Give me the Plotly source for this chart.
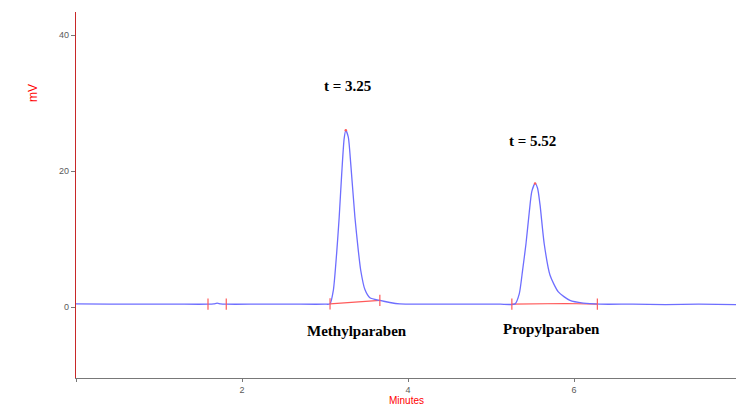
import plotly.graph_objects as go

# Chromatogram trace (minutes, mV)
time_min = [0.0, 0.4, 0.8, 1.2, 1.59, 1.66, 1.70, 1.74, 1.81, 2.2, 2.6, 3.00,
            3.06, 3.10, 3.14, 3.17, 3.20, 3.23, 3.25, 3.28, 3.31, 3.36, 3.40,
            3.43, 3.48, 3.54, 3.66, 3.78, 3.90, 4.14, 4.5, 4.9, 5.11, 5.29,
            5.34, 5.38, 5.42, 5.46, 5.49, 5.53, 5.56, 5.59, 5.64, 5.71, 5.81,
            5.95, 6.11, 6.31, 6.7, 7.1, 7.5, 7.95]
signal_mv = [0.50, 0.45, 0.45, 0.45, 0.45, 0.50, 0.60, 0.50, 0.45, 0.45, 0.45, 0.45,
             0.50, 2.5, 8.0, 13.2, 19.5, 24.8, 26.0, 25.0, 21.0, 13.2, 8.4,
             5.4, 2.6, 1.4, 1.0, 0.7, 0.5, 0.45, 0.45, 0.45, 0.45, 0.50,
             2.0, 5.5, 9.3, 14.0, 17.0, 18.2, 17.5, 15.0, 9.3, 4.7, 2.25,
             1.0, 0.6, 0.45, 0.45, 0.40, 0.45, 0.40]

# Integration event marks and baselines
event_times = [1.59, 1.81, 3.06, 3.66, 5.25, 6.28]
event_levels = [0.45, 0.45, 0.5, 1.0, 0.45, 0.45]
base1_t = [3.06, 3.66]
base1_v = [0.5, 1.0]
base2_t = [5.25, 5.9, 6.28]
base2_v = [0.45, 0.55, 0.45]

peak_times = [3.25, 5.53]
peak_heights = [26.0, 18.2]
rt_labels = ["t = 3.25", "t = 5.52"]
rt_label_pos = [(3.27, 32.5), (5.50, 24.4)]
compound_names = ["Methylparaben", "Propylparaben"]
name_pos = [(3.38, -3.5), (5.73, -3.2)]

x_ticks = [0, 2, 4, 6]
x_tick_text = ["", "2", "4", "6"]
y_ticks = [0, 20, 40]

blue = "rgb(110,110,255)"
red = "rgb(255,90,90)"

fig = go.Figure()
fig.add_trace(go.Scatter(x=base1_t, y=base1_v, mode="lines",
                         line=dict(color=red, width=1.2), hoverinfo="skip"))
fig.add_trace(go.Scatter(x=base2_t, y=base2_v, mode="lines",
                         line=dict(color=red, width=1.2), hoverinfo="skip"))
fig.add_trace(go.Scatter(x=time_min, y=signal_mv, mode="lines",
                         line=dict(color=blue, width=1.3, shape="spline", smoothing=0.6)))
fig.add_trace(go.Scatter(x=event_times, y=event_levels, mode="markers",
                         marker=dict(symbol="line-ns", size=8,
                                     line=dict(color=red, width=1.2))))
fig.add_trace(go.Scatter(x=peak_times, y=peak_heights, mode="markers",
                         marker=dict(symbol="circle", size=2.5, color=red)))

serif = dict(family="Liberation Serif", size=15, color="black")
for txt, (px, py) in zip(rt_labels, rt_label_pos):
    fig.add_annotation(x=px, y=py, text="<b>" + txt + "</b>", showarrow=False,
                       font=serif, xanchor="center", yanchor="middle")
for txt, (px, py) in zip(compound_names, name_pos):
    fig.add_annotation(x=px, y=py, text="<b>" + txt + "</b>", showarrow=False,
                       font=serif, xanchor="center", yanchor="middle")

fig.add_annotation(xref="paper", x=-0.065, yref="y", y=31.5, text="mV",
                   textangle=-90, showarrow=False, xanchor="center", yanchor="middle",
                   font=dict(family="Liberation Sans Narrow, Arial", size=12, color="red"))
fig.add_annotation(xref="paper", x=0.5, yref="paper", y=-0.061, text="Minutes",
                   showarrow=False, yanchor="middle",
                   font=dict(family="Liberation Sans Narrow, Arial", size=10, color="red"))

fig.update_layout(
    width=736, height=405,
    margin=dict(l=76, r=0, t=12, b=27),
    plot_bgcolor="white", paper_bgcolor="white",
    showlegend=False,
    xaxis=dict(range=[0, 7.95], tickvals=x_ticks, ticktext=x_tick_text,
               showgrid=False, zeroline=False, showline=True,
               linecolor="rgb(120,120,120)", linewidth=1.2,
               ticks="outside", ticklen=3, tickcolor="rgb(120,120,120)",
               tickfont=dict(family="Liberation Sans Narrow, Arial", size=9,
                             color="rgb(90,90,90)")),
    yaxis=dict(range=[-10.4, 43.4], tickvals=y_ticks,
               showgrid=False, zeroline=False, showline=True,
               linecolor="rgb(200,40,40)", linewidth=1.2,
               ticks="outside", ticklen=4, tickcolor="rgb(120,120,120)",
               tickfont=dict(family="Liberation Sans Narrow, Arial", size=9,
                             color="rgb(90,90,90)")),
)

fig.write_html("out.html", config={"displayModeBar": False},
               post_script="document.body.style.margin='0';document.body.style.overflow='hidden';")
